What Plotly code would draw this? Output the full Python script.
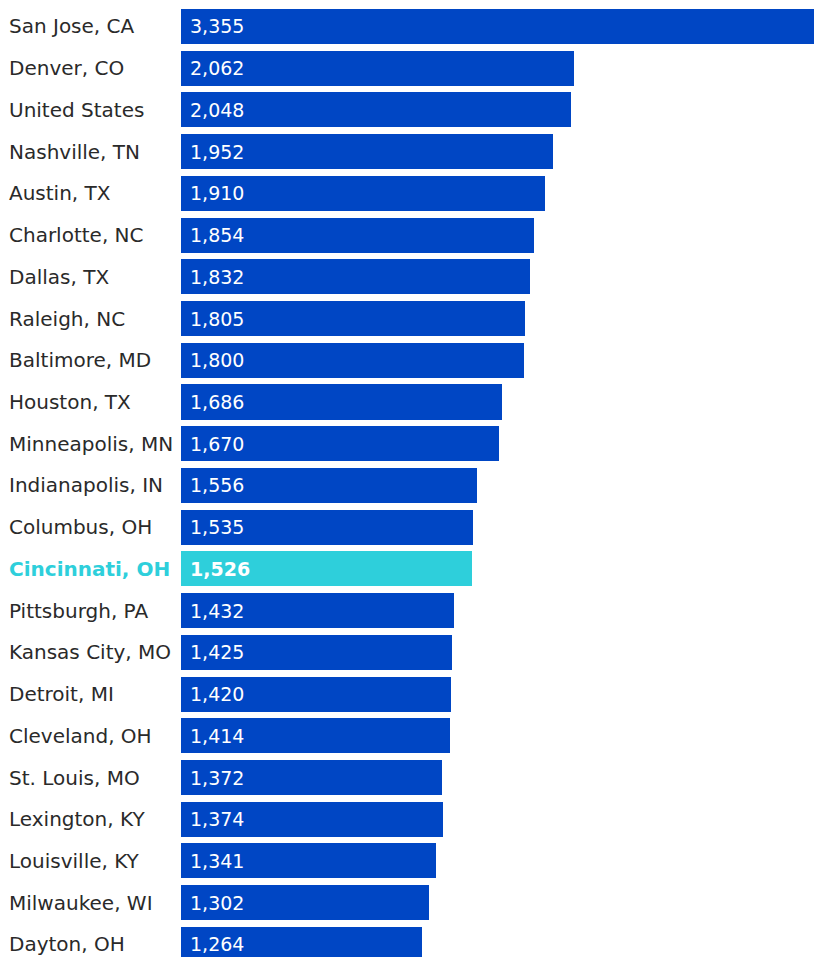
import plotly.graph_objects as go

# Metro areas and their values, top to bottom
cities = [
    "San Jose, CA", "Denver, CO", "United States", "Nashville, TN", "Austin, TX",
    "Charlotte, NC", "Dallas, TX", "Raleigh, NC", "Baltimore, MD", "Houston, TX",
    "Minneapolis, MN", "Indianapolis, IN", "Columbus, OH", "Cincinnati, OH",
    "Pittsburgh, PA", "Kansas City, MO", "Detroit, MI", "Cleveland, OH",
    "St. Louis, MO", "Lexington, KY", "Louisville, KY", "Milwaukee, WI", "Dayton, OH",
]
values = [
    3355, 2062, 2048, 1952, 1910,
    1854, 1832, 1805, 1800, 1686,
    1670, 1556, 1535, 1526,
    1432, 1425, 1420, 1414,
    1372, 1374, 1341, 1302, 1264,
]
highlight = "Cincinnati, OH"

BLUE = "#0046C4"
CYAN = "#2ECFDB"
TEXT = "#2a2a2a"
FONT = "DejaVu Sans"

idx = list(range(len(cities)))
colors = [CYAN if c == highlight else BLUE for c in cities]

fig = go.Figure(go.Bar(
    x=values,
    y=idx,
    orientation="h",
    width=0.84,
    marker=dict(color=colors, line=dict(width=0)),
    hoverinfo="skip",
))

annotations = []
for i, (c, v) in enumerate(zip(cities, values)):
    hl = c == highlight
    # category label on the left
    annotations.append(dict(
        x=0, y=i, xref="paper", yref="y", xanchor="left", yanchor="middle",
        xshift=-174, showarrow=False, text=f"<b>{c}</b>" if hl else c,
        font=dict(family=FONT, size=20, color=CYAN if hl else TEXT),
    ))
    # value inside the bar
    annotations.append(dict(
        x=0, y=i, xref="x", yref="y", xanchor="left", yanchor="middle",
        xshift=7, showarrow=False, text=f"<b>{v:,}</b>" if hl else f"{v:,}",
        font=dict(family=FONT, size=19, color="white"),
    ))

fig.update_layout(
    width=814, height=957,
    margin=dict(l=181, r=0, t=0, b=0),
    paper_bgcolor="white", plot_bgcolor="white",
    showlegend=False,
    annotations=annotations,
    xaxis=dict(range=[0, 3324], visible=False, fixedrange=True),
    yaxis=dict(range=[22.302, -0.635], visible=False, fixedrange=True),
    bargap=0,
)

fig.write_html("out.html", config={"displayModeBar": False})
